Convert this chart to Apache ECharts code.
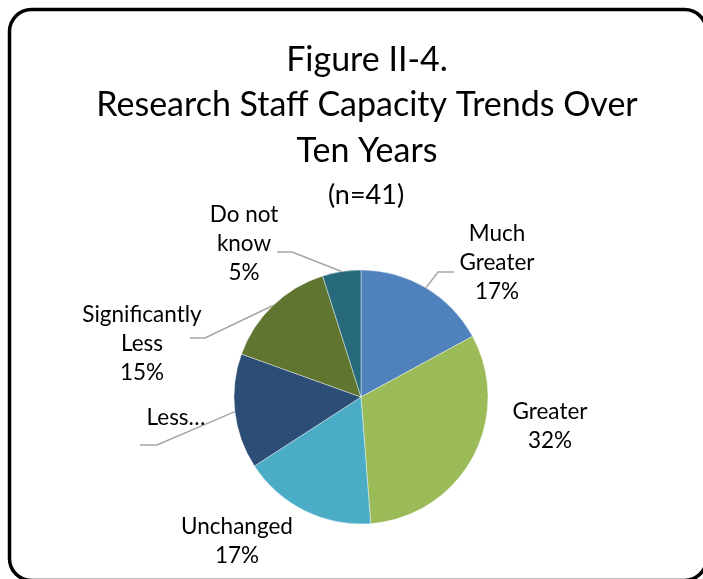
<!DOCTYPE html>
<html>
<head>
<meta charset="utf-8">
<script src="https://cdn.jsdelivr.net/npm/echarts@6/dist/echarts.min.js"></script>
<style>
html,body{margin:0;padding:0;background:#fff;}
#chart{width:703px;height:579px;}
</style>
</head>
<body>
<div id="chart"></div>
<script>
const categories = ['Much Greater', 'Greater', 'Unchanged', 'Less', 'Significantly Less', 'Do not know'];
const counts = [7, 13, 7, 6, 6, 2];
const labelTexts = ['Much\nGreater', 'Greater', 'Unchanged', 'Less…', 'Significantly\nLess', 'Do not\nknow'];
const showPercent = [true, true, true, false, true, true];
const colors = ['#4F81BD', '#9BBB59', '#4BACC6', '#2C4D75', '#5F7530', '#276A7C'];

const total = counts.reduce((a, b) => a + b, 0);
const FONT = 'Lato, "Open Sans", sans-serif';

// label placement (text centre, and leader line elbow/end)
const labelPlace = [
  {x: 497, y: 263, line: [[438, 272], [454, 272]]},
  {x: 550, y: 426, line: null},
  {x: 237, y: 541, line: null},
  {x: 176, y: 418, line: [[157, 445], [140, 445]]},
  {x: 142, y: 344, line: [[205, 338], [190, 338]]},
  {x: 244, y: 244, line: [[292, 252], [277, 252]]}
];

const chart = echarts.init(document.getElementById('chart'), null, {renderer: 'canvas'});
chart.setOption({
  animation: false,
  backgroundColor: '#fff',
  title: [{
    text: 'Figure II-4.\nResearch Staff Capacity Trends Over\nTen Years',
    left: 362, top: 32, textAlign: 'center',
    textStyle: {fontFamily: FONT, fontWeight: 'normal', fontSize: 34, lineHeight: 45.5, color: '#000'}
  }, {
    text: '(n=41)',
    left: 361, top: 173, textAlign: 'center',
    textStyle: {fontFamily: FONT, fontWeight: 'normal', fontSize: 27, lineHeight: 34, color: '#000'}
  }],
  graphic: [{
    type: 'rect',
    shape: {x: 9.5, y: 9.5, width: 697, height: 571, r: 22},
    style: {fill: 'none', stroke: '#000', lineWidth: 3.5},
    z: 100
  }],
  series: [{
    type: 'pie',
    center: [361, 397],
    radius: 127,
    startAngle: 90,
    clockwise: true,
    avoidLabelOverlap: false,
    itemStyle: {borderColor: 'rgba(255,255,255,0.7)', borderWidth: 0.6},
    label: {
      show: true,
      position: 'outside',
      fontFamily: FONT,
      fontSize: 22.5,
      lineHeight: 29,
      color: '#000',
      align: 'center',
      formatter: function (p) {
        const i = p.dataIndex;
        return showPercent[i] ? labelTexts[i] + '\n' + Math.round(p.value / total * 100) + '%' : labelTexts[i];
      }
    },
    labelLine: {show: true, length: 10, length2: 10, smooth: false, lineStyle: {color: '#A6A6A6', width: 1.5}},
    labelLayout: function (params) {
      const pl = labelPlace[params.dataIndex];
      const res = {x: pl.x, y: pl.y, align: 'center', verticalAlign: 'middle', hideOverlap: false, moveOverlap: null};
      if (pl.line && params.labelLinePoints) {
        res.labelLinePoints = [params.labelLinePoints[0], pl.line[0], pl.line[1]];
      }
      return res;
    },
    data: categories.map((c, i) => ({
      name: c,
      value: counts[i],
      itemStyle: {color: colors[i]},
      labelLine: {show: !!labelPlace[i].line}
    }))
  }]
});
</script>
</body>
</html>
